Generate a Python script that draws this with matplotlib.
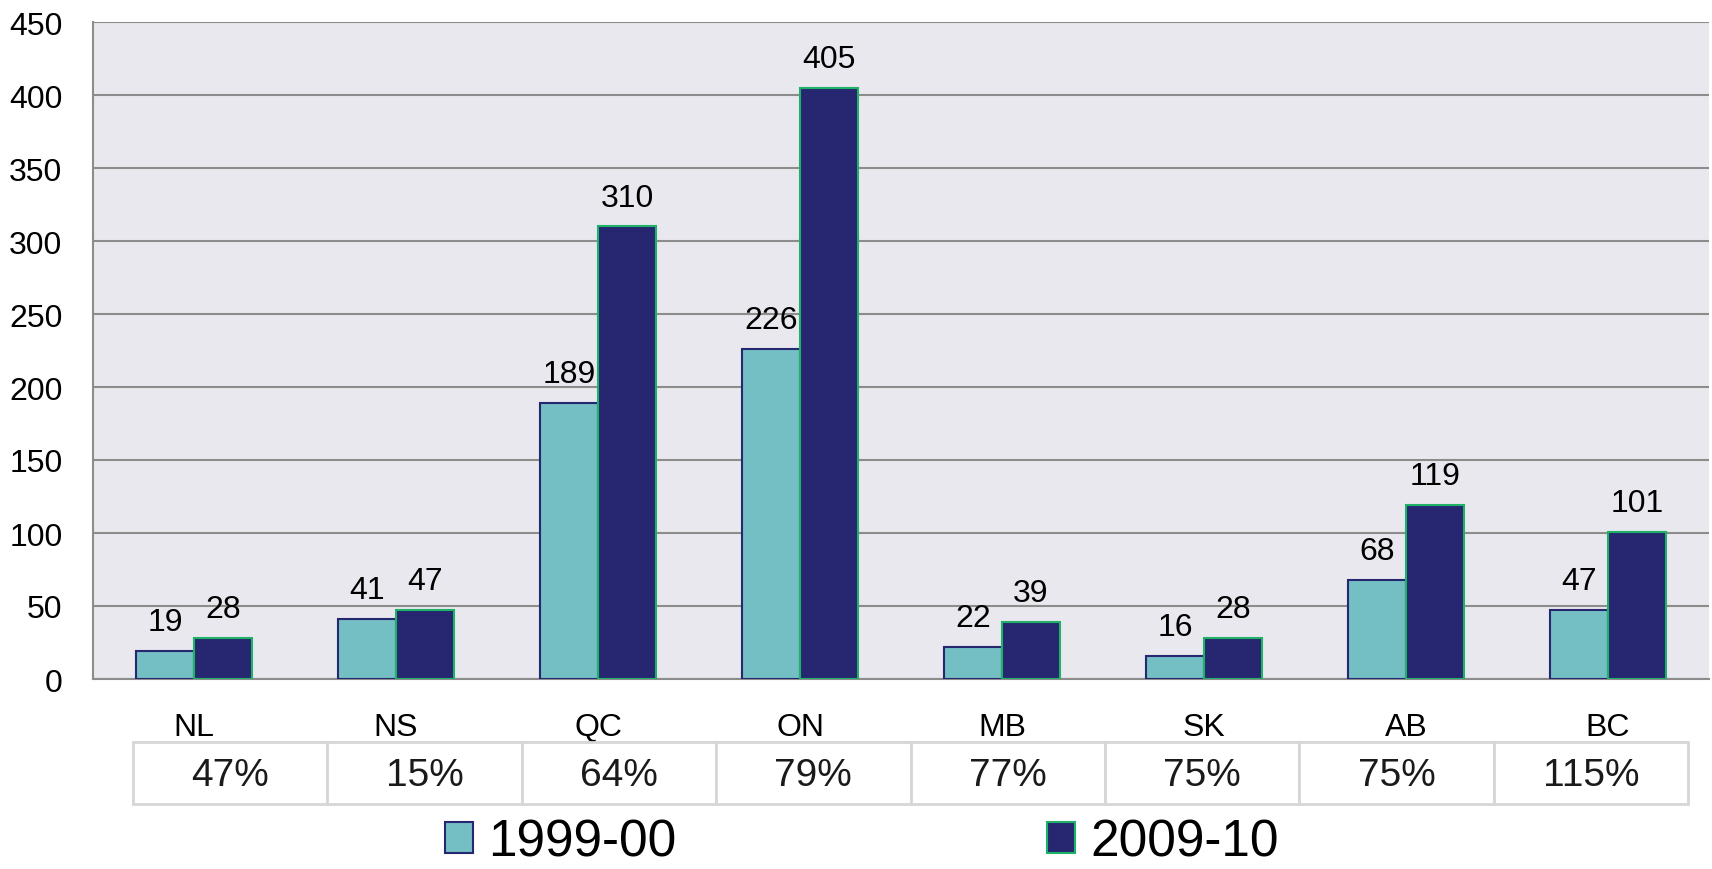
import numpy as np
import matplotlib
matplotlib.use("Agg")
from matplotlib import pyplot as plt
from matplotlib.patches import Rectangle, Patch

plt.rcParams['font.family'] = ['Liberation Sans', 'DejaVu Sans']

provinces = ['NL', 'NS', 'QC', 'ON', 'MB', 'SK', 'AB', 'BC']
vals_1999 = [19, 41, 189, 226, 22, 16, 68, 47]
vals_2009 = [28, 47, 310, 405, 39, 28, 119, 101]
pct_change = ['47%', '15%', '64%', '79%', '77%', '75%', '75%', '115%']
series_names = ['1999-00', '2009-10']

TEAL = '#74BFC4'
NAVY = '#272671'
GREEN = '#1DB265'
GRID = '#8C8C8C'

W, H = 1712, 870
fig = plt.figure(figsize=(W / 100, H / 100), dpi=100)
ax = fig.add_axes([93 / W, 1 - 680 / H, (1709 - 93) / W, (680 - 23) / H])
ax.set_facecolor('#E8E8EE')

x = np.arange(len(provinces))
w = 0.287
b1 = ax.bar(x - w / 2, vals_1999, w, color=TEAL, edgecolor=NAVY, linewidth=1.5, zorder=3)
b2 = ax.bar(x + w / 2, vals_2009, w, color=NAVY, edgecolor=GREEN, linewidth=1.5, zorder=3)

for bars, vals in ((b1, vals_1999), (b2, vals_2009)):
    for r, v in zip(bars, vals):
        ax.annotate(str(v), (r.get_x() + r.get_width() / 2, v), xytext=(0, 10),
                    textcoords='offset points', ha='center', va='bottom', fontsize=23)

ax.set_xlim(-0.5, len(provinces) - 0.5)
ax.set_ylim(0, 450)
ax.set_yticks(np.arange(0, 451, 50))
ax.yaxis.grid(True, color=GRID, linewidth=1.5, zorder=0)
ax.set_axisbelow(True)
ax.tick_params(axis='y', length=0, labelsize=23, pad=22)
ax.set_xticks(x)
ax.set_xticklabels(provinces, fontsize=23)
ax.tick_params(axis='x', length=0, pad=24)
for s in ('top', 'right'):
    ax.spines[s].set_visible(False)
for s in ('left', 'bottom'):
    ax.spines[s].set_color(GRID)
    ax.spines[s].set_linewidth(1.5)

# table row of percentage changes
tl, tr, tt, tb = 133, 1688, 743, 805
cw = (tr - tl) / len(pct_change)
for i, p in enumerate(pct_change):
    x0 = tl + i * cw
    fig.patches.append(Rectangle((x0 / W, 1 - tb / H), cw / W, (tb - tt) / H,
                                 transform=fig.transFigure, facecolor='white',
                                 edgecolor='#D6D6D6', linewidth=2))
    fig.text((x0 + cw / 2) / W, 1 - 776 / H, p, ha='center', va='center',
             fontsize=28, color='#1A1A1A')

handles = [Patch(facecolor=TEAL, edgecolor=NAVY, linewidth=1.5),
           Patch(facecolor=NAVY, edgecolor=GREEN, linewidth=1.5)]
fig.legend(handles, series_names, loc='center', bbox_to_anchor=(862 / W, 1 - 843 / H),
           ncol=2, frameon=False, fontsize=37, handlelength=0.55, handleheight=0.55,
           handletextpad=0.3, columnspacing=7.2, borderpad=0)

fig.savefig('out.png', dpi=100)
